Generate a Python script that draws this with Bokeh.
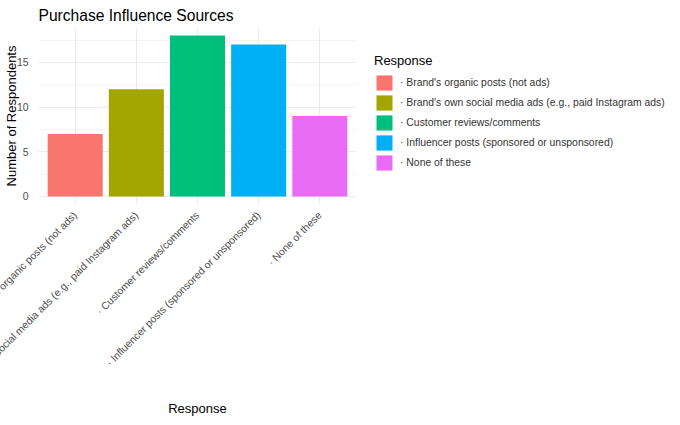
from math import pi
from bokeh.plotting import figure
from bokeh.models import ColumnDataSource, Range1d, FixedTicker, Legend, LegendItem
from bokeh.embed import file_html
from bokeh.resources import INLINE

categories = [
    "· Brand's organic posts (not ads)",
    "· Brand's own social media ads (e.g., paid Instagram ads)",
    "· Customer reviews/comments",
    "· Influencer posts (sponsored or unsponsored)",
    "· None of these",
]
counts = [7, 12, 18, 17, 9]
colors = ["#F8766D", "#A3A500", "#00BF7D", "#00B0F6", "#E76BF3"]
y_ticks = [0, 5, 10, 15]
y_minor_ticks = [2.5, 7.5, 12.5, 17.5]

FONT = "Liberation Sans"
positions = list(range(1, len(categories) + 1))

src = ColumnDataSource(dict(x=positions, top=counts, color=colors, label=categories))

p = figure(
    frame_width=318, frame_height=177,
    x_range=Range1d(0.4, len(categories) + 0.6),
    y_range=Range1d(-0.9, 18.9),
    output_backend="svg", toolbar_location=None,
    min_border_left=0, min_border_right=316,
    min_border_top=0, min_border_bottom=0,
)
p.outline_line_color = None
p.background_fill_color = "white"
p.border_fill_color = "white"

r = p.vbar(x="x", top="top", bottom=0, width=0.9, fill_color="color",
           line_color=None, source=src)

# title
p.title.text = "Purchase Influence Sources"
p.title.text_font = FONT
p.title.text_font_size = "15.6px"
p.title.text_font_style = "normal"
p.title.text_color = "black"
p.title.standoff = 8

# axes
xa = p.xaxis[0]
# an empty leading tick keeps the first real label anchored at its own tick
xa.ticker = FixedTicker(ticks=[0.41] + positions)
overrides = {i: c for i, c in zip(positions, categories)}
overrides[0.41] = " "
xa.major_label_overrides = overrides
xa.major_label_orientation = pi / 4
xa.axis_label = "Response"
ya = p.yaxis[0]
ya.ticker = FixedTicker(ticks=y_ticks, minor_ticks=y_minor_ticks)
ya.axis_label = "Number of Respondents"

for ax in (xa, ya):
    ax.axis_line_color = None
    ax.major_tick_line_color = None
    ax.minor_tick_line_color = None
    ax.major_label_text_font = FONT
    ax.major_label_text_font_size = "10.4px"
    ax.major_label_text_color = "#4D4D4D"
    ax.axis_label_text_font = FONT
    ax.axis_label_text_font_size = "13px"
    ax.axis_label_text_font_style = "normal"
    ax.axis_label_text_color = "black"
xa.major_label_standoff = 3
ya.major_label_standoff = 4
ya.axis_label_standoff = -5
xa.axis_label_standoff = -10

# grids
p.xgrid.ticker = FixedTicker(ticks=positions)
p.xgrid.grid_line_color = "#EBEBEB"
p.xgrid.grid_line_width = 1
p.ygrid.grid_line_color = "#EBEBEB"
p.ygrid.grid_line_width = 1
p.ygrid.minor_grid_line_color = "#EBEBEB"
p.ygrid.minor_grid_line_width = 0.6

# legend
items = [LegendItem(label=c, renderers=[r], index=i) for i, c in enumerate(categories)]
legend = Legend(
    items=items, location=(18, 32),
    title="Response", title_text_font=FONT, title_text_font_size="13px",
    title_text_font_style="normal", title_text_color="black", title_standoff=5,
    label_text_font=FONT, label_text_font_size="10.4px", label_text_color="#333333",
    glyph_width=20, glyph_height=19, label_height=19, spacing=1, label_standoff=6,
    padding=0, margin=0, border_line_color=None, background_fill_alpha=0,
)
p.add_layout(legend, "right")

open("out.html", "w").write(file_html(p, INLINE))
